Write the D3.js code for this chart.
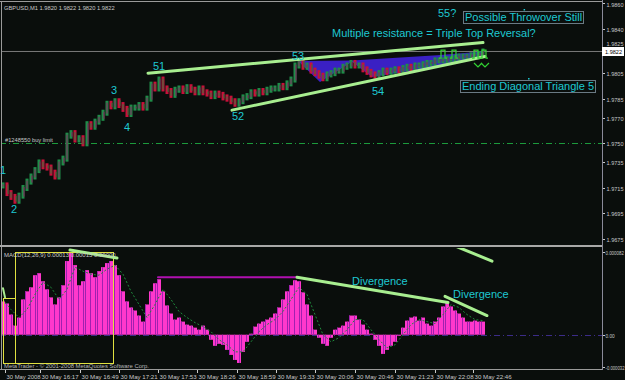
<!DOCTYPE html>
<html>
<head>
<meta charset="utf-8">
<script src="https://cdn.jsdelivr.net/npm/d3@7"></script>
<style>
  html, body { margin: 0; padding: 0; background: #0a0e0c; overflow: hidden; }
  svg { display: block; font-family: "Liberation Sans", Arial, sans-serif; }
</style>
</head>
<body>
<svg id="chart" width="625" height="380"></svg>
<script>
'use strict';

// ---- data ----
// M1 bars sampled every 4 bars, bar number 1..481
var sampleBars = d3.range(1, 482, 4);
var closes = [
  1.9717, 1.9711, 1.9708, 1.9705, 1.9709, 1.9715, 1.9720, 1.9724, 1.9729, 1.9735,
  1.9732, 1.9731, 1.9727, 1.9724, 1.9735, 1.9738, 1.9756, 1.9758, 1.9753, 1.9754,
  1.9750, 1.9765, 1.9763, 1.9767, 1.9770, 1.9774, 1.9781, 1.9779, 1.9783, 1.9780,
  1.9777, 1.9773, 1.9778, 1.9778, 1.9780, 1.9778, 1.9785, 1.9796, 1.9793, 1.9800,
  1.9793, 1.9791, 1.9788, 1.9792, 1.9793, 1.9791, 1.9794, 1.9792, 1.9790, 1.9793,
  1.9790, 1.9789, 1.9787, 1.9789, 1.9788, 1.9786, 1.9785, 1.9783, 1.9781, 1.9783,
  1.9786, 1.9787, 1.9790, 1.9789, 1.9791, 1.9790, 1.9792, 1.9793, 1.9793, 1.9795,
  1.9794, 1.9797, 1.9800, 1.9811, 1.9814, 1.9810, 1.9811, 1.9807, 1.9805, 1.9803,
  1.9801, 1.9804, 1.9805, 1.9807, 1.9807, 1.9810, 1.9811, 1.9813, 1.9811, 1.9811,
  1.9808, 1.9806, 1.9804, 1.9803, 1.9805, 1.9807, 1.9806, 1.9807, 1.9808, 1.9807,
  1.9809, 1.9810, 1.9809, 1.9811, 1.9811, 1.9812, 1.9813, 1.9813, 1.9815, 1.9815,
  1.9815, 1.9816, 1.9816, 1.9817, 1.9818, 1.9818, 1.9818, 1.9819, 1.9819, 1.9820,
  1.9822
];

// MACD histogram, in millionths
var histMicro = [
  33, 31, 20, 9, 17, 35, 43, 47, 59, 61,
  53, 45, 37, 30, 37, 49, 73, 82, 69, 49,
  53, 64, 61, 57, 63, 67, 71, 73, 69, 59,
  43, 33, 27, 24, 19, 13, 30, 43, 51, 55,
  43, 29, 21, 15, 17, 13, 10, 9, 7, 5,
  9, 5, -5, -11, -9, -10, -15, -20, -25, -28,
  -17, -7, 1, 8, 11, 13, 15, 17, 21, 27,
  35, 43, 49, 54, 53, 42, 30, 19, 5, -3,
  -9, -11, -3, 5, 7, 9, 13, 19, 19, 15,
  10, 5, 1, -5, -11, -19, -15, -11, -7, -1,
  7, 14, 17, 18, 14, 17, 11, 9, 13, 17,
  28, 32, 28, 24, 21, 17, 13, 13, 14, 13,
  13
];

// signal line, every 8 bars, in millionths
var signalBars = d3.range(1, 482, 8);
var signalMicro = [
  35, 25, 17, 25, 40, 52, 47, 35, 45, 67,
  63, 60, 59, 65, 69, 60, 43, 30, 17, 30,
  45, 35, 23, 17, 12, 8, 3, -5, -10, -17,
  -17, -7, 3, 10, 15, 23, 35, 47, 40, 20,
  0, -7, -3, 5, 15, 15, 5, -5, -13, -10,
  0, 10, 15, 13, 11, 20, 30, 27, 20, 15,
  14
];

var priceTicks = [1.9860, 1.9840, 1.9825, 1.9805, 1.9785, 1.9770, 1.9750, 1.9735, 1.9715, 1.9695, 1.9675];
var macdTicks = [82, 0, -32];
var macdTickLabels = ['0.000082', '0.00', '-0.000032'];
var timeBars = [3, 38, 78, 117, 156, 195, 235, 274, 313, 353, 393, 433, 471];
var timeLabels = ['30 May 2008', '30 May 16:17', '30 May 16:49', '30 May 17:21', '30 May 17:53',
  '30 May 18:26', '30 May 18:59', '30 May 19:33', '30 May 20:06', '30 May 20:46',
  '30 May 21:23', '30 May 22:08', '30 May 22:46'];

var lastPrice = 1.9822;
var buyLimit = 1.9750;

// trendlines [bar, price]
var upperLine = [[146, 1.9805], [481, 1.9829]];
var lowerLine = [[230, 1.9776], [483, 1.9818]];
// shaded triple top area [bar, price]
var tripleTopArea = [[296, 1.98145], [318, 1.9798], [350, 1.9814], [370, 1.9802], [435, 1.9810],
  [481, 1.9818], [481, 1.9822], [435, 1.9819], [350, 1.9815], [296, 1.98145]];
// fractal arrows [bar, price]
var upArrows = [[441, 1.9823], [452, 1.9823], [474, 1.9823], [482, 1.9823]];
var downArrows = [[476, 1.9813], [483, 1.9813]];

var waveLabels = [
  { text: '1', bar: -2, price: 1.9726 },
  { text: '2', bar: 9, price: 1.9695 },
  { text: '3', bar: 109, price: 1.9789 },
  { text: '4', bar: 122, price: 1.9760 },
  { text: '51', bar: 151, price: 1.98075 },
  { text: '52', bar: 230, price: 1.97683 },
  { text: '53', bar: 290, price: 1.98153 },
  { text: '54', bar: 370, price: 1.97879 },
  { text: '55?', bar: 436, price: 1.9849 },
  { text: 'Multiple resistance = Triple Top Reversal?', bar: 330, price: 1.98333 }
];
var boxLabels = [
  { text: 'Possible Throwover Still', bar: 463, price: 1.98459 },
  { text: 'Ending Diagonal Triangle 5', bar: 460, price: 1.97918 }
];

// MACD panel drawings [bar, millionths]
var macdLines = [
  { pts: [[68, 84], [115, 76]], color: '#a8ee90', w: 3 },
  { pts: [[156, 57], [295, 57]], color: '#b010b0', w: 2 },
  { pts: [[295, 57], [446, 32]], color: '#a8ee90', w: 3 },
  { pts: [[443, 38], [485, 19]], color: '#a8ee90', w: 3 },
  { pts: [[453, 88], [490, 73]], color: '#a8ee90', w: 3 },
  { pts: [[1, 46], [3, 37]], color: '#a8ee90', w: 2 }
];
var macdBoxes = [[13, 82, 111, -28], [1, 36, 13, -28]];
var macdTexts = [
  { text: 'Divergence', bar: 350, v: 49 },
  { text: 'Divergence', bar: 451, v: 36 }
];

// ---- scales ----
var svg = d3.select('#chart');
var axisX = 602;
var x = d3.scaleLinear().domain([0, 600]).range([2, 602]);
var yP = d3.scaleLinear().domain([1.9860, 1.9675]).range([3, 239]);
var yM = d3.scaleLinear().domain([82, -32]).range([252, 367]);

var cyan = '#1ec8d2';
var axisGray = '#c8c8c8';

// small MT4-style text, squeezed horizontally to a given width
function smallText(sel, xx, yy, str, len, color) {
  var t = sel.append('text').attr('x', 0).attr('y', 0)
    .attr('font-size', 5.8).attr('fill', color || axisGray).text(str);
  var w = t.node().getComputedTextLength();
  var k = (len && w > 0) ? len / w : 1;
  t.attr('transform', 'translate(' + xx + ',' + yy + ') scale(' + k + ',1)');
  return t;
}

var defs = svg.append('defs');
defs.append('clipPath').attr('id', 'clipP').append('rect')
  .attr('x', 2).attr('y', 2).attr('width', axisX - 2).attr('height', 242);
defs.append('clipPath').attr('id', 'clipM').append('rect')
  .attr('x', 2).attr('y', 248).attr('width', axisX - 2).attr('height', 120);

// ---- frame ----
svg.append('line').attr('x1', 0).attr('x2', axisX).attr('y1', 1.5).attr('y2', 1.5)
  .attr('stroke', '#9a9a9a').attr('stroke-width', 1);
svg.append('line').attr('x1', 1.5).attr('x2', 1.5).attr('y1', 1).attr('y2', 369)
  .attr('stroke', '#9a9a9a').attr('stroke-width', 1);
svg.append('rect').attr('x', 0).attr('y', 245).attr('width', axisX).attr('height', 2)
  .attr('fill', '#a8a8a8');
svg.append('line').attr('x1', 0).attr('x2', axisX).attr('y1', 369.5).attr('y2', 369.5)
  .attr('stroke', '#9a9a9a');
svg.append('line').attr('x1', axisX + 0.5).attr('x2', axisX + 0.5).attr('y1', 0).attr('y2', 370)
  .attr('stroke', '#8a8a9a');

// ---- price panel ----
var gP = svg.append('g').attr('clip-path', 'url(#clipP)');

gP.append('line').attr('x1', 0).attr('x2', axisX).attr('y1', yP(lastPrice)).attr('y2', yP(lastPrice))
  .attr('stroke', '#7a7a7a').attr('stroke-width', 1);
gP.append('line').attr('x1', 0).attr('x2', axisX).attr('y1', Math.round(yP(buyLimit)) + 0.5).attr('y2', Math.round(yP(buyLimit)) + 0.5)
  .attr('stroke', '#1c9a3c').attr('stroke-dasharray', '6,3,1,3');

gP.append('path')
  .attr('d', d3.line().x(function (d) { return x(d[0]); }).y(function (d) { return yP(d[1]); })(tripleTopArea))
  .attr('fill', '#3a20c4').attr('stroke', 'none');

gP.selectAll('rect.bar')
  .data(closes)
  .enter().append('rect')
  .attr('class', 'bar')
  .attr('x', function (d, i) { return x(sampleBars[i]) - 1.5; })
  .attr('width', 3)
  .attr('y', function (d, i) {
    var prev = i ? closes[i - 1] : d;
    return yP(Math.max(prev, d)) - 3;
  })
  .attr('height', function (d, i) {
    var prev = i ? closes[i - 1] : d;
    return Math.abs(yP(prev) - yP(d)) + 6;
  })
  .attr('fill', function (d, i) {
    var prev = i ? closes[i - 1] : d;
    return d >= prev ? '#1f8c48' : '#c8103a';
  });
// thin dark split inside each bar, like the overlapping M1 sticks
gP.selectAll('rect.split')
  .data(closes)
  .enter().append('rect')
  .attr('class', 'split')
  .attr('x', function (d, i) { return x(sampleBars[i]) - 0.5 + (i % 2); })
  .attr('width', 1)
  .attr('y', function (d, i) {
    var prev = i ? closes[i - 1] : d;
    return yP(Math.max(prev, d)) - 1;
  })
  .attr('height', function (d, i) {
    var prev = i ? closes[i - 1] : d;
    return Math.abs(yP(prev) - yP(d)) + 2;
  })
  .attr('fill', function (d, i) {
    var prev = i ? closes[i - 1] : d;
    return d >= prev ? '#8a1f60' : '#2a7a3a';
  });

var lineP = d3.line().x(function (d) { return x(d[0]); }).y(function (d) { return yP(d[1]); });
[upperLine, lowerLine].forEach(function (l) {
  gP.append('path').attr('d', lineP(l)).attr('stroke', '#a8ee90')
    .attr('stroke-width', 3).attr('fill', 'none').attr('stroke-linecap', 'round');
});

upArrows.forEach(function (a) {
  var cx = x(a[0]), cy = yP(a[1]);
  gP.append('path')
    .attr('d', 'M' + (cx - 4) + ',' + (cy + 8) + 'h2v-8h4v8h2')
    .attr('fill', 'none').attr('stroke', '#32d232').attr('stroke-width', 1.2);
});
downArrows.forEach(function (a) {
  var cx = x(a[0]), cy = yP(a[1]);
  gP.append('path')
    .attr('d', 'M' + (cx - 4) + ',' + cy + 'l4,4l4,-4')
    .attr('fill', 'none').attr('stroke', '#32d232').attr('stroke-width', 1.2);
});

smallText(svg, 4, 9.5, 'GBPUSD,M1  1.9820 1.9822 1.9820 1.9822', 111);
smallText(svg, 5, yP(buyLimit) - 1.5, '#1248550 buy limit', 48);

waveLabels.forEach(function (l) {
  svg.append('text').attr('x', x(l.bar)).attr('y', yP(l.price))
    .attr('font-size', 11).attr('fill', cyan).text(l.text);
});
boxLabels.forEach(function (l) {
  var t = svg.append('text').attr('x', x(l.bar)).attr('y', yP(l.price))
    .attr('font-size', 11).attr('fill', cyan).text(l.text);
  var bb = t.node().getBBox();
  svg.insert('rect', 'text')
    .attr('x', Math.round(bb.x) - 1.5).attr('y', Math.round(bb.y) + 0.5)
    .attr('width', Math.round(bb.width) + 3).attr('height', Math.round(bb.height))
    .attr('fill', 'none').attr('stroke', '#6a7a84').attr('stroke-width', 1);
  svg.append('rect').attr('x', x(l.bar) + bb.width / 2).attr('y', Math.round(bb.y) - 2)
    .attr('width', 1.5).attr('height', 1.5).attr('fill', cyan);
});

// price axis
var boxTop = Math.round(yP(lastPrice)) - 4;
priceTicks.forEach(function (p) {
  var yy = Math.round(yP(p)) + 0.5;
  svg.append('line').attr('x1', axisX + 1).attr('x2', axisX + 3).attr('y1', yy).attr('y2', yy)
    .attr('stroke', axisGray);
  var base = Math.max(yy + 2.5, 7);
  // keep the label just above the current-price box when they would collide
  if (base > boxTop - 1 && base - 5 < boxTop + 9) base = boxTop - 1;
  smallText(svg, axisX + 4.5, base, p.toFixed(4), 17);
});
svg.append('rect').attr('x', axisX).attr('y', boxTop).attr('width', 22).attr('height', 9)
  .attr('fill', '#ffffff');
smallText(svg, axisX + 3, boxTop + 7, lastPrice.toFixed(4), 17, '#000');

// ---- MACD panel ----
var gM = svg.append('g').attr('clip-path', 'url(#clipM)');

gM.append('line').attr('x1', 0).attr('x2', axisX).attr('y1', Math.round(yM(0)) + 0.5).attr('y2', Math.round(yM(0)) + 0.5)
  .attr('stroke', '#3c2c88').attr('stroke-dasharray', '6,3,1,3');

gM.selectAll('rect.hist')
  .data(histMicro)
  .enter().append('rect')
  .attr('class', 'hist')
  .attr('x', function (d, i) { return x(sampleBars[i]) - 2; })
  .attr('width', 4)
  .attr('y', function (d) { return yM(Math.max(d, 0)); })
  .attr('height', function (d) { return Math.abs(yM(d) - yM(0)); })
  .attr('fill', '#ff38cc');

gM.selectAll('rect.stripe')
  .data(histMicro)
  .enter().append('rect')
  .attr('class', 'stripe')
  .attr('x', function (d, i) { return x(sampleBars[i]) - 2 + (i % 3); })
  .attr('width', 1)
  .attr('y', function (d) { return yM(Math.max(d, 0)); })
  .attr('height', function (d) { return Math.abs(yM(d) - yM(0)); })
  .attr('fill', '#a020b0');

gM.append('path')
  .attr('d', d3.line().x(function (d, i) { return x(signalBars[i]); }).y(function (d) { return yM(d); })(signalMicro))
  .attr('fill', 'none').attr('stroke', '#1f8a3c').attr('stroke-width', 1).attr('stroke-dasharray', '2,2');

macdBoxes.forEach(function (b) {
  gM.append('rect')
    .attr('x', Math.round(x(b[0])) + 0.5).attr('y', Math.round(yM(b[1])) + 0.5)
    .attr('width', Math.round(x(b[2]) - x(b[0]))).attr('height', Math.round(yM(b[3]) - yM(b[1])))
    .attr('fill', 'none').attr('stroke', '#e0e040').attr('stroke-width', 1);
});

var lineM = d3.line().x(function (d) { return x(d[0]); }).y(function (d) { return yM(d[1]); });
macdLines.forEach(function (l) {
  gM.append('path').attr('d', lineM(l.pts)).attr('stroke', l.color)
    .attr('stroke-width', l.w).attr('fill', 'none').attr('stroke-linecap', 'round');
});

macdTexts.forEach(function (l) {
  svg.append('text').attr('x', x(l.bar)).attr('y', yM(l.v))
    .attr('font-size', 11).attr('fill', cyan).text(l.text);
});

smallText(svg, 4, 257, 'MACD(12,26,9) 0.00013 0.00013 0.00000', 112);
smallText(svg, 4, 367.5, 'MetaTrader - \u00a9 2001-2008 MetaQuotes Software Corp.', 145, '#b8b8b8');

macdTicks.forEach(function (v, i) {
  var yy = Math.round(yM(v)) + 0.5;
  svg.append('line').attr('x1', axisX + 1).attr('x2', axisX + 3).attr('y1', yy).attr('y2', yy)
    .attr('stroke', axisGray);
  smallText(svg, axisX + 3.5, Math.min(yy + 2.5, 370), macdTickLabels[i], Math.min(macdTickLabels[i].length * 2.3, 19));
});

// ---- time axis ----
timeBars.forEach(function (b, i) {
  var xx = Math.round(x(b)) + 0.5;
  svg.append('line').attr('x1', xx).attr('x2', xx).attr('y1', 370).attr('y2', 373)
    .attr('stroke', axisGray);
  smallText(svg, xx + 1, 378.5, timeLabels[i], timeLabels[i].length * 3.1);
});
</script>
</body>
</html>
